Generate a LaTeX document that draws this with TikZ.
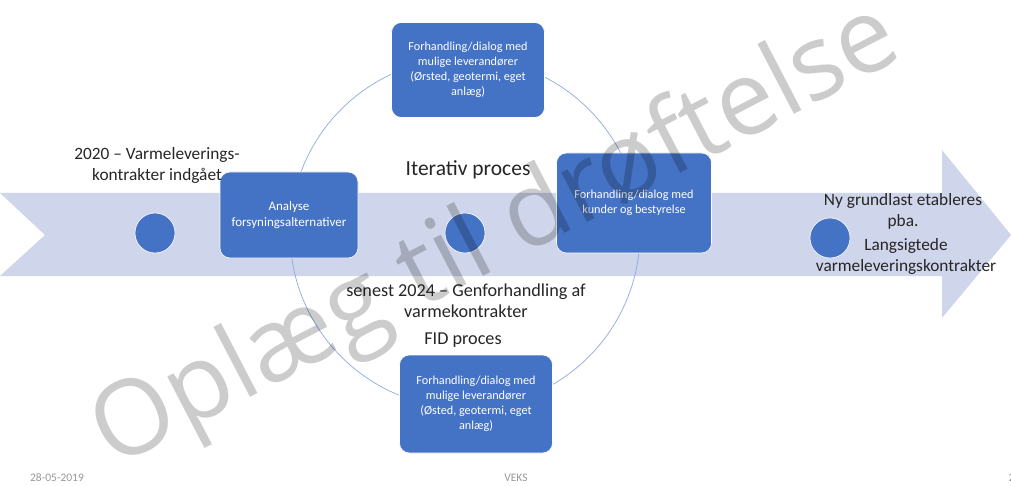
\documentclass[tikz,border=0pt]{standalone}
\usepackage{fontspec}
\setmainfont{Carlito}
\newfontfamily\wmfont{Open Sans}
\begin{document}
\begin{tikzpicture}[x=1pt,y=-1pt,
  box/.style={draw=white,line width=0.6pt,fill=boxblue,rounded corners=10pt,text=white,align=center,font=\fontsize{12.2}{15}\selectfont,inner sep=4pt},
  dot/.style={circle,draw=white,line width=0.6pt,fill=boxblue,minimum size=40pt,inner sep=0pt},
  lbl/.style={align=center,font=\fontsize{17.3}{21}\selectfont,text=black!85},
  mlbl/.style={align=center,font=\fontsize{18.2}{21}\selectfont,text=black!85},
  foot/.style={font=\fontsize{11.5}{12}\selectfont,text=black!40}]
\definecolor{boxblue}{RGB}{68,114,196}
\definecolor{band}{RGB}{207,213,234}
\definecolor{ring}{RGB}{143,170,220}
\useasboundingbox (0,0) rectangle (1011,486);
\fill[white] (0,0) rectangle (1011,486);
% band arrow
\fill[band] (0,193) -- (942,193) -- (942,150) -- (1011,235) -- (942,318) -- (942,276) -- (0,276) -- (45,235) -- cycle;
% ring
\draw[ring,line width=0.7pt] (465,233) circle (175);
% dots
\node[dot] (d1) at (155,233) {};
\node[dot] (d2) at (465,233) {};
\node[dot] (d3) at (830,238) {};
% boxes
\node[box,minimum width=153pt,minimum height=95pt] (top) at (468,70) {Forhandling/dialog med\\mulige leverandører\\(Ørsted, geotermi, eget\\anlæg)};
\node[box,minimum width=138pt,minimum height=86pt,font=\fontsize{13}{16}\selectfont] (ana) at (289,215) {Analyse\\forsyningsalternativer};
\node[box,minimum width=155pt,minimum height=100pt] (kun) at (634,203) {Forhandling/dialog med\\kunder og bestyrelse};
\node[box,minimum width=153pt,minimum height=98pt] (bot) at (476,404) {Forhandling/dialog med\\mulige leverandører\\(Østed, geotermi, eget\\anlæg)};
% labels
\node[lbl] (l2020) at (157,165) {2020 -- Varmeleverings-\\kontrakter indgået};
\node[mlbl,font=\fontsize{21.5}{24}\selectfont] (iter) at (468,170) {Iterativ proces};
\node[mlbl] (l2024) at (466,301) {senest 2024 -- Genforhandling af\\varmekontrakter};
\node[mlbl] (fid) at (463,340) {FID proces};
\node[lbl] (ny) at (903,211) {Ny grundlast etableres\\pba.};
\node[lbl] (lang) at (906,256) {Langsigtede\\varmeleveringskontrakter};
% footer
\node[foot] (date) at (57,478) {28-05-2019};
\node[foot] (veks) at (516,478) {VEKS};
\node[foot,anchor=west] (pg) at (1005,478) {2};
% watermark
\node[rotate=27.5,font=\wmfont\fontsize{104}{104}\selectfont,text=black,opacity=0.2] (wm) at (497,238) {Oplæg til drøftelse};
\end{tikzpicture}
\end{document}
